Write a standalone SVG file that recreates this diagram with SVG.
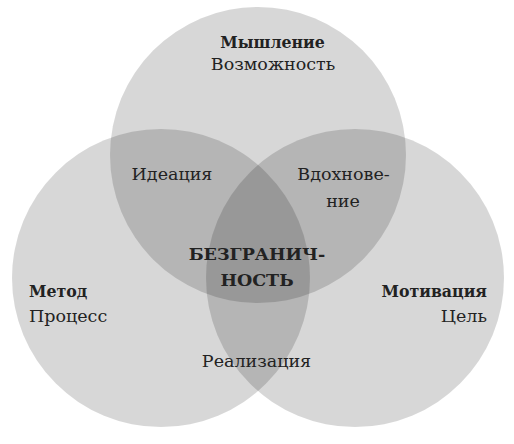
<svg xmlns="http://www.w3.org/2000/svg" width="514" height="444" viewBox="0 0 514 444">
<style>
.c{fill:#000;fill-opacity:0.155}
text{font-family:'DejaVu Serif','Liberation Serif',serif;font-size:17.5px;fill:#222;text-anchor:middle}
.b{font-weight:bold}
.h{font-family:'DejaVu Serif Condensed','DejaVu Serif',serif;font-stretch:condensed;font-weight:bold}
</style>
<rect width="514" height="444" fill="#fff"/>
<g id="top"><circle class="c" cx="258" cy="155" r="148"/></g>
<g id="left"><circle class="c" cx="161" cy="278" r="149"/></g>
<g id="right"><circle class="c" cx="355" cy="278" r="149"/></g>
<g id="connectors"></g>
<g id="label-top"><text class="h" x="272.5" y="48">Мышление</text><text x="273" y="70">Возможность</text></g>
<g id="label-left"><text class="h" x="29" y="297" style="text-anchor:start">Метод</text><text x="29" y="322" style="text-anchor:start">Процесс</text></g>
<g id="label-right"><text class="h" x="487" y="297" style="text-anchor:end">Мотивация</text><text x="487" y="322" style="text-anchor:end">Цель</text></g>
<g id="label-ideation"><text x="172" y="180">Идеация</text></g>
<g id="label-inspiration"><text x="343.5" y="180">Вдохнове-</text><text x="343" y="207">ние</text></g>
<g id="label-center"><text class="b" x="257" y="260">БЕЗГРАНИЧ-</text><text class="b" x="257" y="286">НОСТЬ</text></g>
<g id="label-realization"><text x="256.5" y="367">Реализация</text></g>
</svg>
